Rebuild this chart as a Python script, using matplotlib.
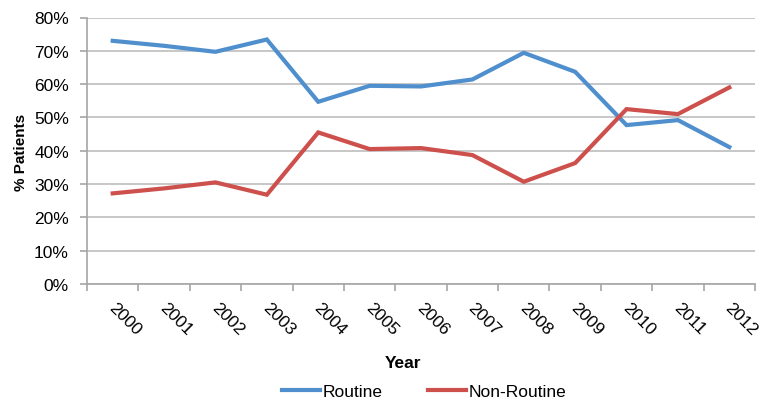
import matplotlib
matplotlib.use("Agg")
import matplotlib.pyplot as plt
import matplotlib.transforms as mtransforms
import numpy as np
from matplotlib.ticker import FuncFormatter, FixedLocator

years = ["2000", "2001", "2002", "2003", "2004", "2005", "2006",
         "2007", "2008", "2009", "2010", "2011", "2012"]
routine = [73.0, 71.5, 69.7, 73.4, 54.7, 59.5, 59.3, 61.4, 69.4, 63.7, 47.7, 49.2, 41.1]
non_routine = [27.2, 28.7, 30.5, 26.8, 45.5, 40.5, 40.8, 38.7, 30.7, 36.3, 52.5, 51.0, 59.0]

plt.rcParams['font.family'] = ['Liberation Sans', 'DejaVu Sans']

fig = plt.figure(figsize=(7.62, 4.02), dpi=100)
ax = fig.add_axes([87/762, 1-285/402, (755-87)/762, (285-18.5)/402])

x = np.arange(len(years))
ax.plot(x, routine, color='#4F8FCE', lw=3, label='Routine', solid_joinstyle='miter')
ax.plot(x, non_routine, color='#CD504C', lw=3, label='Non-Routine', solid_joinstyle='miter')

ax.set_xlim(-0.5, len(years) - 0.5)
ax.set_ylim(0, 80)
ax.set_yticks(np.arange(0, 81, 10))
ax.yaxis.set_major_formatter(FuncFormatter(lambda v, p: f"{int(v)}%"))
ax.grid(axis='y', color='#BDBDBD', lw=1.2)
ax.set_axisbelow(True)

ax.set_xticks(x)
ax.set_xticklabels(years, rotation=-45, ha='center', va='top', fontsize=12.5)
ax.tick_params(axis='x', which='major', length=0, pad=11)
offset = mtransforms.ScaledTranslation(0.12, 0, fig.dpi_scale_trans)
for lab in ax.get_xticklabels():
    lab.set_transform(lab.get_transform() + offset)
ax.xaxis.set_minor_locator(FixedLocator(np.arange(-0.5, len(years), 1)))
ax.tick_params(axis='x', which='minor', length=5, color='#A6A6A6', width=1.2)
ax.tick_params(axis='y', length=5, color='#A6A6A6', width=1.2, labelsize=12.5, pad=8)

for s in ['top', 'right']:
    ax.spines[s].set_visible(False)
for s in ['left', 'bottom']:
    ax.spines[s].set_color('#A6A6A6')
    ax.spines[s].set_linewidth(1.2)

ax.set_xlabel('Year', fontsize=12.5, fontweight='bold', va='center')
ax.xaxis.set_label_coords((403-87)/668, 1-(363-18.5)/266.5)
ax.set_ylabel('% Patients', fontsize=11, fontweight='bold', va='center')
ax.yaxis.set_label_coords(-(87-21)/668, 1-(152-18.5)/266.5)

fig.legend(loc='center', bbox_to_anchor=(424/762, 1-392/402), ncol=2, frameon=False,
           fontsize=12.5, handlelength=2.2, handletextpad=0.15, columnspacing=2.6,
           borderpad=0, borderaxespad=0)

fig.savefig('out.png', dpi=100)
